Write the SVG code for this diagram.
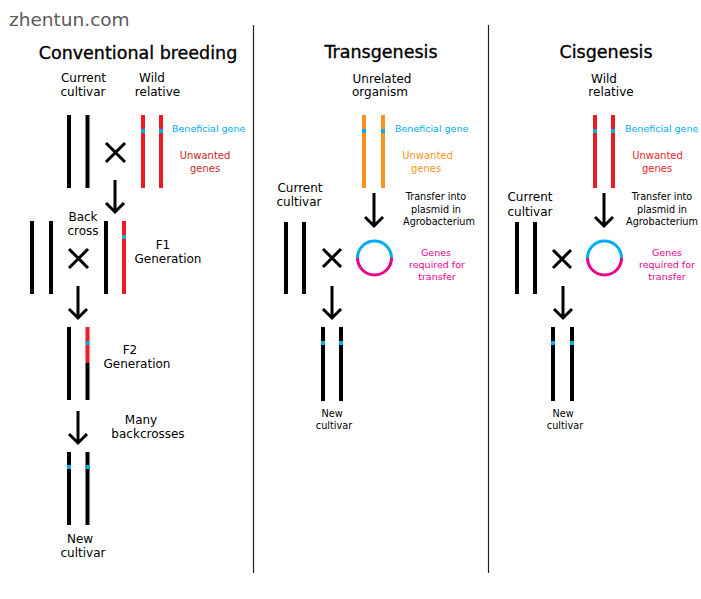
<svg xmlns="http://www.w3.org/2000/svg" width="701" height="599" viewBox="0 0 701 599">
<defs>
<style>
text{font-family:"DejaVu Sans","Liberation Sans",sans-serif;fill:#000}
.title{font-size:17.5px;text-anchor:middle;stroke:#000;stroke-width:0.35}
.lbl{font-size:12px;text-anchor:middle}
.sm{font-size:9.7px;text-anchor:middle}
.ben{font-size:9.5px;fill:#00aeef}
.unw{font-size:10px;fill:#ed1c24;text-anchor:middle}
.unwo{font-size:10px;fill:#f7941d;text-anchor:middle}
.req{font-size:9.5px;fill:#ec008c;text-anchor:middle}
.blk{stroke:#000;stroke-width:4}
.red{stroke:#ed1c24;stroke-width:4}
.org{stroke:#f7941d;stroke-width:4}
.blu{fill:#00aeef}
.x{stroke:#000;stroke-width:3;fill:none}
.arr{stroke:#000;stroke-width:3;fill:none}
.div{stroke:#222;stroke-width:1.2}
</style>
</defs>
<rect width="701" height="599" fill="#fff"/>
<text x="9" y="26" style="font-size:18.5px;fill:#5a5a5a">zhentun.com</text>

<g id="dividers">
<line class="div" x1="253.5" y1="25" x2="253.5" y2="573"/>
<line class="div" x1="488.5" y1="25" x2="488.5" y2="573"/>
</g>

<!-- Conventional breeding -->
<g id="conv-title"><text class="title" x="138" y="59">Conventional breeding</text></g>
<g id="conv-current">
<text class="lbl" x="83.5" y="82">Current</text><text class="lbl" x="83" y="96">cultivar</text>
<line class="blk" x1="69" y1="115" x2="69" y2="188"/><line class="blk" x1="87.5" y1="115" x2="87.5" y2="188"/>
</g>
<g id="conv-cross1"><path class="x" d="M106,143 L125,162 M125,143 L106,162"/></g>
<g id="conv-wild">
<text class="lbl" x="152" y="82">Wild</text><text class="lbl" x="157.5" y="96">relative</text>
<line class="red" x1="143" y1="115" x2="143" y2="188"/><line class="red" x1="161" y1="115" x2="161" y2="188"/>
<rect class="blu" x="141" y="129" width="4" height="4"/><rect class="blu" x="159" y="129" width="4" height="4"/>
<text class="ben" x="172" y="132">Beneficial gene</text>
<text class="unw" x="205" y="159" style="fill:#d2232a">Unwanted</text><text class="unw" x="205" y="172" style="fill:#d2232a">genes</text>
</g>
<g id="conv-backcross">
<text class="lbl" x="83" y="221">Back</text><text class="lbl" x="83" y="235">cross</text>
<line class="blk" x1="32" y1="221" x2="32" y2="294"/><line class="blk" x1="51" y1="221" x2="51" y2="294"/>
<path class="x" d="M69,249 L88,268 M88,249 L69,268"/>
</g>
<g id="conv-f1">
<line class="blk" x1="106" y1="221" x2="106" y2="294"/><line class="red" x1="124" y1="221" x2="124" y2="294"/>
<rect class="blu" x="122" y="235" width="4" height="4"/>
<text class="lbl" x="163" y="249">F1</text><text class="lbl" x="168" y="263">Generation</text>
</g>
<g id="conv-f2">
<line class="blk" x1="69" y1="327" x2="69" y2="400"/>
<line class="red" x1="87.5" y1="327" x2="87.5" y2="363"/><line class="blk" x1="87.5" y1="363" x2="87.5" y2="400"/>
<rect class="blu" x="85.5" y="341" width="4" height="4"/>
<text class="lbl" x="130" y="354">F2</text><text class="lbl" x="137" y="368">Generation</text>
</g>
<g id="conv-many"><text class="lbl" x="141" y="424">Many</text><text class="lbl" x="148" y="438">backcrosses</text></g>
<g id="conv-new">
<line class="blk" x1="69" y1="452" x2="69" y2="525"/><line class="blk" x1="87.5" y1="452" x2="87.5" y2="525"/>
<rect class="blu" x="67" y="465" width="4" height="4"/><rect class="blu" x="85.5" y="465" width="4" height="4"/>
<text class="lbl" x="80" y="543">New</text><text class="lbl" x="83" y="557">cultivar</text>
</g>

<!-- Transgenesis -->
<g id="trans-title"><text class="title" x="381" y="58">Transgenesis</text></g>
<g id="trans-unrelated">
<text class="lbl" x="382" y="83">Unrelated</text><text class="lbl" x="380" y="96">organism</text>
<line class="org" x1="364" y1="115" x2="364" y2="188"/><line class="org" x1="383" y1="115" x2="383" y2="188"/>
<rect class="blu" x="362" y="129" width="4" height="4"/><rect class="blu" x="381" y="129" width="4" height="4"/>
<text class="ben" x="395" y="132">Beneficial gene</text>
<text class="unwo" x="427.5" y="159">Unwanted</text><text class="unwo" x="426" y="172">genes</text>
</g>
<g id="trans-transfer"><text class="sm" x="436" y="200">Transfer into</text><text class="sm" x="436" y="213">plasmid in</text><text class="sm" x="439" y="225">Agrobacterium</text></g>
<g id="trans-current">
<text class="lbl" x="300" y="192">Current</text><text class="lbl" x="299" y="206">cultivar</text>
<line class="blk" x1="286" y1="222" x2="286" y2="294"/><line class="blk" x1="304" y1="222" x2="304" y2="294"/>
</g>
<g id="trans-cross"><path class="x" d="M323,249 L341,267 M341,249 L323,267"/></g>
<g id="trans-plasmid">
<path d="M357.5,258 A17,17 0 0 1 391.5,258" stroke="#00aeef" stroke-width="3" fill="none"/>
<path d="M357.5,258 A17,17 0 0 0 391.5,258" stroke="#ec008c" stroke-width="3" fill="none"/>
<text class="req" x="436" y="256">Genes</text><text class="req" x="437" y="268">required for</text><text class="req" x="437" y="280">transfer</text>
</g>
<g id="trans-new">
<line class="blk" x1="323" y1="327" x2="323" y2="401"/><line class="blk" x1="341" y1="327" x2="341" y2="401"/>
<rect class="blu" x="321" y="341" width="4" height="4"/><rect class="blu" x="339" y="341" width="4" height="4"/>
<text class="sm" x="332" y="417">New</text><text class="sm" x="334" y="429">cultivar</text>
</g>

<!-- Cisgenesis -->
<g id="cis-title"><text class="title" x="606" y="58">Cisgenesis</text></g>
<g id="cis-wild">
<text class="lbl" x="604" y="83">Wild</text><text class="lbl" x="611" y="96">relative</text>
<line class="red" x1="595" y1="115" x2="595" y2="188"/><line class="red" x1="613" y1="115" x2="613" y2="188"/>
<rect class="blu" x="593" y="129" width="4" height="4"/><rect class="blu" x="611" y="129" width="4" height="4"/>
<text class="ben" x="625" y="132">Beneficial gene</text>
<text class="unw" x="657.5" y="159">Unwanted</text><text class="unw" x="657" y="172">genes</text>
</g>
<g id="cis-transfer"><text class="sm" x="662" y="200">Transfer into</text><text class="sm" x="662" y="213">plasmid in</text><text class="sm" x="662" y="225">Agrobacterium</text></g>
<g id="cis-current">
<text class="lbl" x="530" y="201">Current</text><text class="lbl" x="530" y="216">cultivar</text>
<line class="blk" x1="517" y1="222" x2="517" y2="294"/><line class="blk" x1="535" y1="222" x2="535" y2="294"/>
</g>
<g id="cis-cross"><path class="x" d="M553,250 L571,268 M571,250 L553,268"/></g>
<g id="cis-plasmid">
<path d="M587.5,258 A17,17 0 0 1 621.5,258" stroke="#00aeef" stroke-width="3" fill="none"/>
<path d="M587.5,258 A17,17 0 0 0 621.5,258" stroke="#ec008c" stroke-width="3" fill="none"/>
<text class="req" x="667" y="256">Genes</text><text class="req" x="667" y="268">required for</text><text class="req" x="667" y="280">transfer</text>
</g>
<g id="cis-new">
<line class="blk" x1="553" y1="327" x2="553" y2="401"/><line class="blk" x1="572" y1="327" x2="572" y2="401"/>
<rect class="blu" x="551" y="341" width="4" height="4"/><rect class="blu" x="570" y="341" width="4" height="4"/>
<text class="sm" x="563" y="417">New</text><text class="sm" x="565" y="429">cultivar</text>
</g>

<g id="connectors">
<path class="arr" d="M115,180 V211 M106,203 L115,212 L124,203"/>
<path class="arr" d="M78,286 V317 M69,309 L78,318 L87,309"/>
<path class="arr" d="M78,411 V442 M69,434 L78,443 L87,434"/>
<path class="arr" d="M374,193 V225 M365,217 L374,226 L383,217"/>
<path class="arr" d="M332,286 V317 M323,309 L332,318 L341,309"/>
<path class="arr" d="M604,193 V225 M595,217 L604,226 L613,217"/>
<path class="arr" d="M563,286 V317 M554,309 L563,318 L572,309"/>
</g>
</svg>
